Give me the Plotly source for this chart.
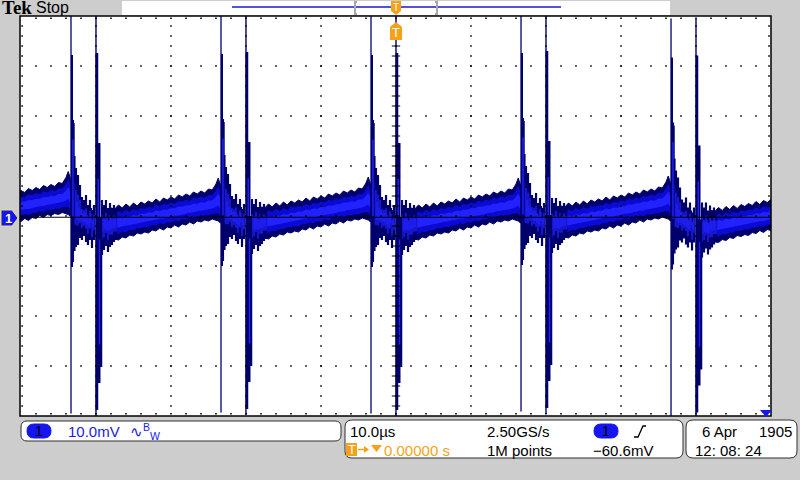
import plotly.graph_objects as go

# ---------------- data (time in microseconds, voltage in millivolts) ----------------
T_RANGE = [-50.13, 50.0]
V_RANGE = [-40.0, 40.0]

# the B spike of each period (the one at -60 us is off screen; only its tail shows)
period_starts_us = [-60, -40, -20, 0, 20, 40]
period_offset_mv = [1.3, 0.0, 0.2, 0.0, 0.4, -0.5]

# noise band between ringing bursts, relative to the B spike of its period
band_tau = [2.0, 2.5, 3.0, 3.5, 4.0, 4.5, 5.0, 5.5, 6.0, 6.5, 7.0, 7.5, 8.0, 8.5, 9.0,
            9.5, 10.0, 10.5, 11.0, 11.5, 12.0, 12.5, 13.0, 13.5, 14.0, 14.5, 15.0,
            15.5, 16.0, 16.3, 16.6]
band_top = [1.6, 1.4, 2.2, 1.6, 2.4, 1.8, 2.6, 2.0, 2.8, 2.4, 3.0, 2.6, 3.4, 2.8, 3.6,
            3.2, 3.8, 3.4, 4.2, 3.8, 4.4, 4.0, 4.8, 4.4, 5.0, 4.6, 5.4, 5.2, 6.4, 7.6, 6.2]
band_bot = [-5.4, -4.6, -4.8, -4.2, -4.4, -3.8, -4.0, -3.4, -3.6, -3.2, -3.4, -2.8, -3.0,
            -2.4, -2.8, -2.2, -2.4, -1.8, -2.2, -1.6, -1.8, -1.2, -1.6, -1.0, -1.2, -0.8,
            -1.0, -0.6, -0.8, -1.0, -1.4]

# ringing strokes around the spike pair, relative to the B spike
ring_tau = [-3.07, -2.87, -2.67, -2.53, -2.4, -2.27, -2.13, -2.0, -1.87, -1.73, -1.6,
            -1.47, -1.33, -1.2, -1.07, -0.93, -0.8, -0.67, -0.53, -0.4, -0.27,
            0.8, 0.93, 1.07, 1.2, 1.33, 1.47, 1.6, 1.73, 1.87, 2.0, 2.13, 2.27, 2.4,
            2.53, 2.67]
ring_top = [19.2, 12.0, 9.6, 5.0, 8.2, 3.4, 6.2, 2.4, 3.8, 1.8, 3.2,
            2.0, 4.2, 1.4, 2.2, 0.8, 3.2, 1.6, 1.2, 0.4, 2.2,
            3.2, 1.0, 2.2, 0.6, 3.2, 1.2, 1.6, 0.4, 2.6, 1.0, 1.6, 0.8, 2.2,
            1.0, 1.2]
ring_bot = [-9.2, -7.0, -6.2, -3.0, -5.8, -2.6, -4.4, -2.0, -4.8, -2.4, -4.0,
            -2.8, -5.2, -3.0, -5.8, -3.4, -4.8, -2.6, -6.4, -3.0, -4.8,
            -7.8, -4.6, -6.8, -4.0, -6.0, -4.4, -7.2, -4.2, -6.2, -4.0, -5.8, -3.8, -5.2,
            -3.6, -4.8]

# spike A (leading) and spike B (trigger) vertical strokes, relative to B
spike_a_tau = [-3.33, -3.2, -3.07]
spike_a_top = [40.0, 32.2, 18.6]
spike_a_bot = [-39.5, -10.2, -3.4]
spike_b_tau = [0.0, 0.13, 0.3, 0.47]
spike_b_top = [40.0, 32.6, 14.6, -0.2]
spike_b_bot = [-40.0, -38.8, -33.4, -30.2]

ground_mv = -0.25

# screen texts
ch_scale = "10.0mV"
time_scale = "10.0\u00b5s"
sample_rate = "2.50GS/s"
record_len = "1M points"
trig_level = "\u221260.6mV"
trig_pos = "0.00000 s"
date_txt = "6 Apr"
year_txt = "1905"
time_txt = "12: 08: 24"

# ---------------- style ----------------
NAVY = "#00006c"
MID = "#0a0ad2"
BRIGHT = "#2222ff"
ORANGE = "#f5a21a"
GREY_BG = "#cdcdcd"
FONT = "Liberation Sans"

W, H = 800, 480
L, R, T, B = 20, 29, 16, 64
PW, PH = W - L - R, H - T - B


def X(px):
    return (px - L) / PW


def Y(py):
    return (H - B - py) / PH


fig = go.Figure()

# noise band, three intensity layers
for b0, off in zip(period_starts_us, period_offset_mv):
    xs = [b0 + t for t in band_tau]
    for frac, col in ((0.0, NAVY), (0.18, MID), (0.36, BRIGHT)):
        top = [tp + off - frac * (tp - bt) for tp, bt in zip(band_top, band_bot)]
        bot = [bt + off + frac * (tp - bt) for tp, bt in zip(band_top, band_bot)]
        fig.add_trace(go.Scatter(
            x=xs + xs[::-1], y=top + bot[::-1], mode="lines", fill="toself",
            fillcolor=col, line=dict(width=1 if frac == 0 else 0, color=col),
            hoverinfo="skip", showlegend=False))


def strokes(taus, tops, bots, shrink=0.0):
    xs, ys = [], []
    for b0, off in zip(period_starts_us, period_offset_mv):
        for t, tp, bt in zip(taus, tops, bots):
            d = (tp - bt) * shrink
            xs += [b0 + t, b0 + t, None]
            ys += [tp + off - d, bt + off + d, None]
    return xs, ys


rx, ry = strokes(ring_tau, ring_top, ring_bot)
fig.add_trace(go.Scatter(x=rx, y=ry, mode="lines", line=dict(width=2.2, color=NAVY),
                         hoverinfo="skip", showlegend=False))
rx, ry = strokes(ring_tau, ring_top, ring_bot, 0.28)
fig.add_trace(go.Scatter(x=rx, y=ry, mode="lines", line=dict(width=1.3, color=BRIGHT),
                         hoverinfo="skip", showlegend=False))

# spikes: thin full stroke + heavier bodies
widths_a = [1.3, 2.0, 3.5]
widths_b = [1.4, 2.6, 4.5, 5.5]
for taus, tops, bots, ws in ((spike_a_tau, spike_a_top, spike_a_bot, widths_a),
                             (spike_b_tau, spike_b_top, spike_b_bot, widths_b)):
    for i, w in enumerate(ws):
        sx, sy = strokes([taus[i]], [tops[i]], [bots[i]])
        fig.add_trace(go.Scatter(x=sx, y=sy, mode="lines", line=dict(width=w, color=NAVY),
                                 hoverinfo="skip", showlegend=False))
        if i >= 2:
            sx, sy = strokes([taus[i]], [tops[i]], [bots[i]], 0.15)
            fig.add_trace(go.Scatter(x=sx, y=sy, mode="lines",
                                     line=dict(width=1.4, color=BRIGHT),
                                     hoverinfo="skip", showlegend=False))

# ground reference line
fig.add_trace(go.Scatter(x=T_RANGE, y=[ground_mv, ground_mv], mode="lines",
                         line=dict(width=1.2, color="black"), hoverinfo="skip",
                         showlegend=False))

# graticule dots
gx, gy = [], []
for k in range(1, 10):
    tmaj = -50 + 10 * k
    for j in range(1, 40):
        gx.append(tmaj)
        gy.append(-40 + 2 * j)
for k in range(1, 8):
    vmaj = -40 + 10 * k
    for j in range(1, 50):
        gx.append(-50 + 2 * j)
        gy.append(vmaj)
# edge ticks
for j in range(1, 50):
    gx += [-50 + 2 * j, -50 + 2 * j]
    gy += [39.55, -39.55]
for j in range(1, 40):
    gx += [-49.85, 49.73]
    gy += [-40 + 2 * j, -40 + 2 * j]
fig.add_trace(go.Scatter(x=gx, y=gy, mode="markers",
                         marker=dict(symbol="square", size=1.6, color="black",
                                     line=dict(width=0)),
                         hoverinfo="skip", showlegend=False))
# centre line ticks
cx, cy = [], []
for j in range(1, 40):
    cx.append(0)
    cy.append(-40 + 2 * j)
fig.add_trace(go.Scatter(x=cx, y=cy, mode="markers",
                         marker=dict(symbol="line-ew", size=6, color="black",
                                     line=dict(width=1, color="black")),
                         hoverinfo="skip", showlegend=False))

shapes = []
# plot border
shapes.append(dict(type="rect", xref="paper", yref="paper", x0=0, y0=0, x1=1, y1=1,
                   line=dict(color="black", width=1.5), layer="above"))


def rrect(x0, y0, x1, y1, r):
    p = (f"M {X(x0 + r)},{Y(y0)} L {X(x1 - r)},{Y(y0)} Q {X(x1)},{Y(y0)} {X(x1)},{Y(y0 + r)} "
         f"L {X(x1)},{Y(y1 - r)} Q {X(x1)},{Y(y1)} {X(x1 - r)},{Y(y1)} "
         f"L {X(x0 + r)},{Y(y1)} Q {X(x0)},{Y(y1)} {X(x0)},{Y(y1 - r)} "
         f"L {X(x0)},{Y(y0 + r)} Q {X(x0)},{Y(y0)} {X(x0 + r)},{Y(y0)} Z")
    return p


def poly(pts, close=True):
    return "M " + " L ".join(f"{X(a)},{Y(b)}" for a, b in pts) + (" Z" if close else "")


# bottom panels
for (x0, y0, x1, y1, r) in ((21, 421, 341, 441, 6), (345, 420, 683, 458, 7),
                            (686, 420, 797, 458, 7)):
    shapes.append(dict(type="path", xref="paper", yref="paper", path=rrect(x0, y0, x1, y1, r),
                       fillcolor="white", line=dict(color="#303030", width=1)))
# blue pills
for (x0, y0, x1, y1) in ((27, 424, 51, 438), (594, 424, 618, 438)):
    shapes.append(dict(type="path", xref="paper", yref="paper",
                       path=rrect(x0, y0, x1, y1, 7), fillcolor="#1515f0",
                       line=dict(color="#1515f0", width=1)))
# slope symbol
shapes.append(dict(type="path", xref="paper", yref="paper",
                   path=poly([(634, 437), (638, 437), (643, 426), (646, 426)], close=False),
                   line=dict(color="black", width=1.3)))
# trigger T box, arrow and triangle in panel
shapes.append(dict(type="rect", xref="paper", yref="paper", x0=X(346), x1=X(357),
                   y0=Y(456), y1=Y(443), fillcolor=ORANGE, line=dict(width=0)))
shapes.append(dict(type="line", xref="paper", yref="paper", x0=X(358), x1=X(366),
                   y0=Y(449.5), y1=Y(449.5), line=dict(color=ORANGE, width=1.5)))
shapes.append(dict(type="path", xref="paper", yref="paper",
                   path=poly([(364, 446), (369, 449.5), (364, 453)]),
                   fillcolor=ORANGE, line=dict(width=0)))
shapes.append(dict(type="path", xref="paper", yref="paper",
                   path=poly([(371, 445), (382, 445), (376.5, 452)]),
                   fillcolor=ORANGE, line=dict(width=0)))

# top record bar
shapes.append(dict(type="rect", xref="paper", yref="paper", x0=X(122), x1=X(670),
                   y0=Y(15), y1=Y(1), fillcolor="white", line=dict(width=0)))
shapes.append(dict(type="line", xref="paper", yref="paper", x0=X(232), x1=X(561),
                   y0=Y(7), y1=Y(7), line=dict(color="#1a1acc", width=1.5)))
shapes.append(dict(type="path", xref="paper", yref="paper",
                   path=poly([(357, 2), (355, 2), (355, 14), (357, 14)], close=False),
                   line=dict(color="#a8a8a8", width=2)))
shapes.append(dict(type="path", xref="paper", yref="paper",
                   path=poly([(435, 2), (437, 2), (437, 14), (435, 14)], close=False),
                   line=dict(color="#a8a8a8", width=2)))
# trigger position markers
shapes.append(dict(type="path", xref="paper", yref="paper",
                   path=poly([(391, 1), (401, 1), (401, 11), (396, 15), (391, 11)]),
                   fillcolor=ORANGE, line=dict(width=0)))
shapes.append(dict(type="path", xref="paper", yref="paper",
                   path=poly([(396, 22), (402, 27), (402, 40), (390, 40), (390, 27)]),
                   fillcolor=ORANGE, line=dict(width=0), layer="above"))
# channel 1 marker
shapes.append(dict(type="path", xref="paper", yref="paper",
                   path=poly([(1, 210), (12, 210), (18, 218), (12, 226), (1, 226)]),
                   fillcolor="#1515f0", line=dict(color="#e8e070", width=1)))
# trigger level marker
shapes.append(dict(type="path", xref="paper", yref="paper",
                   path=poly([(760, 410), (772, 410), (766, 417)]),
                   fillcolor="#1515f0", line=dict(width=0), layer="above"))


def txt(x, y, s, color="black", size=15, anchor="left", family=FONT):
    return dict(x=X(x), y=Y(y), xref="paper", yref="paper", text=s, showarrow=False,
                xanchor=anchor, yanchor="middle", font=dict(family=family, size=size, color=color),
                borderpad=0)


ann = [
    txt(1, 8, "<b>Tek</b>", size=19, family="Liberation Serif"),
    txt(35, 8, "Stop", size=16),
    txt(39, 431, "1", size=14, anchor="center"),
    txt(67, 431, ch_scale, color="#1a1ae6"),
    txt(129, 431, "\u223f<sup>B</sup><sub>W</sub>", color="#1a1ae6", size=15),
    txt(349, 431, time_scale),
    txt(486, 431, sample_rate),
    txt(606, 431, "1", size=14, anchor="center"),
    txt(351.5, 449.5, "T", color="white", size=13, anchor="center"),
    txt(383, 450, trig_pos, color=ORANGE),
    txt(486, 450, record_len),
    txt(592, 450, trig_level),
    txt(701, 431, date_txt),
    txt(793, 431, year_txt, anchor="right"),
    txt(694, 450, time_txt),
    txt(396, 33, "T", color="white", size=13, anchor="center"),
    txt(396, 7, "T", color="white", size=10, anchor="center"),
    txt(8, 218.5, "<b>1</b>", color="white", size=13, anchor="center"),
]

fig.update_layout(
    width=W, height=H, margin=dict(l=L, r=R, t=T, b=B),
    paper_bgcolor=GREY_BG, plot_bgcolor="white",
    xaxis=dict(range=T_RANGE, visible=False, fixedrange=True),
    yaxis=dict(range=V_RANGE, visible=False, fixedrange=True),
    shapes=shapes, annotations=ann, showlegend=False,
)

fig.write_html("out.html", config={"displayModeBar": False},
               post_script="document.body.style.margin='0';document.body.style.padding='0';")
